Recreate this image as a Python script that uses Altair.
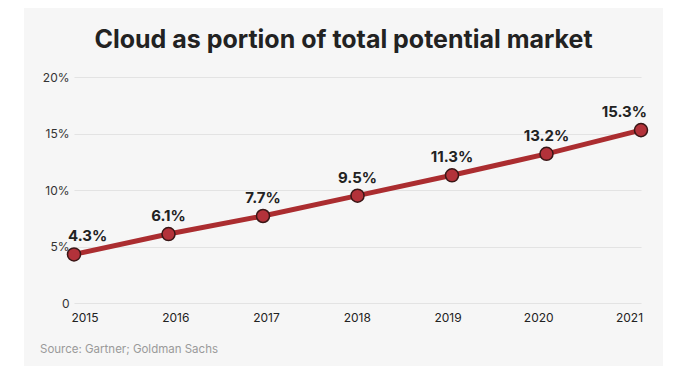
import altair as alt
import pandas as pd

years = [2015, 2016, 2017, 2018, 2019, 2020, 2021]
shares = [4.3, 6.1, 7.7, 9.5, 11.3, 13.2, 15.3]
share_labels = ["4.3%", "6.1%", "7.7%", "9.5%", "11.3%", "13.2%", "15.3%"]
y_ticks = [0, 5, 10, 15, 20]
title_text = "Cloud as portion of total potential market"
source_text = "Source: Gartner; Goldman Sachs"

df = pd.DataFrame({"year": years, "share": shares, "label": share_labels})

W, H = 567, 226
FONT = "Inter"

xs = alt.X("year:Q", scale=alt.Scale(domain=[2015, 2021], nice=False, zero=False), axis=None)
ys = alt.Y(
    "share:Q",
    scale=alt.Scale(domain=[0, 20], nice=False),
    axis=alt.Axis(
        values=y_ticks,
        title=None,
        labelExpr="datum.value == 0 ? '0' : datum.value + '%'",
        grid=True,
        gridColor="#e3e3e3",
        domain=False,
        ticks=False,
        labelPadding=5,
        labelFontSize=12,
        labelColor="#333333",
        labelFont=FONT,
    ),
)

base = alt.Chart(df)
one = pd.DataFrame({"a": [0]})

# white strips at left and right of the grey panel
strip_left = alt.Chart(one).mark_rect(color="#ffffff").encode(
    x=alt.value(-66), x2=alt.value(-50), y=alt.value(-69), y2=alt.value(289)
)
strip_right = alt.Chart(one).mark_rect(color="#ffffff").encode(
    x=alt.value(589), x2=alt.value(605), y=alt.value(-69), y2=alt.value(289)
)

line = base.mark_line(color="#ab2d30", strokeWidth=5).encode(x=xs, y=ys)
points = base.mark_point(
    filled=True, fill="#b3323a", stroke="#3a1616", strokeWidth=1.5, size=170, opacity=1, shape="circle"
).encode(x=xs, y=ys)

lbl_style = dict(fontSize=15, fontWeight="bold", font=FONT, color="#222222", baseline="middle")
labels_mid = base.mark_text(align="center", dy=-18, **lbl_style).encode(
    x=xs, y=ys, text="label:N"
).transform_filter("datum.year > 2015 && datum.year < 2021")
labels_first = base.mark_text(align="left", dx=-6, dy=-18, **lbl_style).encode(
    x=xs, y=ys, text="label:N"
).transform_filter("datum.year == 2015")
labels_last = base.mark_text(align="right", dx=6, dy=-18, **lbl_style).encode(
    x=xs, y=ys, text="label:N"
).transform_filter("datum.year == 2021")

year_labels = base.mark_text(
    fontSize=12, font=FONT, color="#222222", baseline="middle", align="center"
).encode(
    x=alt.X("year:Q", scale=alt.Scale(domain=[2015, 2021], range=[11, 555.5], nice=False, zero=False), axis=None),
    y=alt.value(241),
    text="year:N",
)

source = alt.Chart(pd.DataFrame({"t": [source_text]})).mark_text(
    fontSize=11.5, font=FONT, color="#9a9a9a", align="left", baseline="middle"
).encode(x=alt.value(-34), y=alt.value(273), text="t:N")

title = alt.Chart(pd.DataFrame({"t": [title_text]})).mark_text(
    fontSize=25, font=FONT, fontWeight="bold", color="#222222", align="center", baseline="alphabetic"
).encode(x=alt.value(269.5), y=alt.value(-29), text="t:N")

chart = (
    alt.layer(strip_left, strip_right, line, points, labels_mid, labels_first, labels_last,
              year_labels, source, title)
    .resolve_scale(x="independent")
    .properties(
        width=W,
        height=H,
        autosize=alt.AutoSizeParams(type="none"),
        padding={"left": 66, "top": 69, "right": 38, "bottom": 63},
        background="#f6f6f6",
    )
    .configure_view(stroke=None)
)

chart.save("out.html", embed_options={"renderer": "svg", "actions": False})
